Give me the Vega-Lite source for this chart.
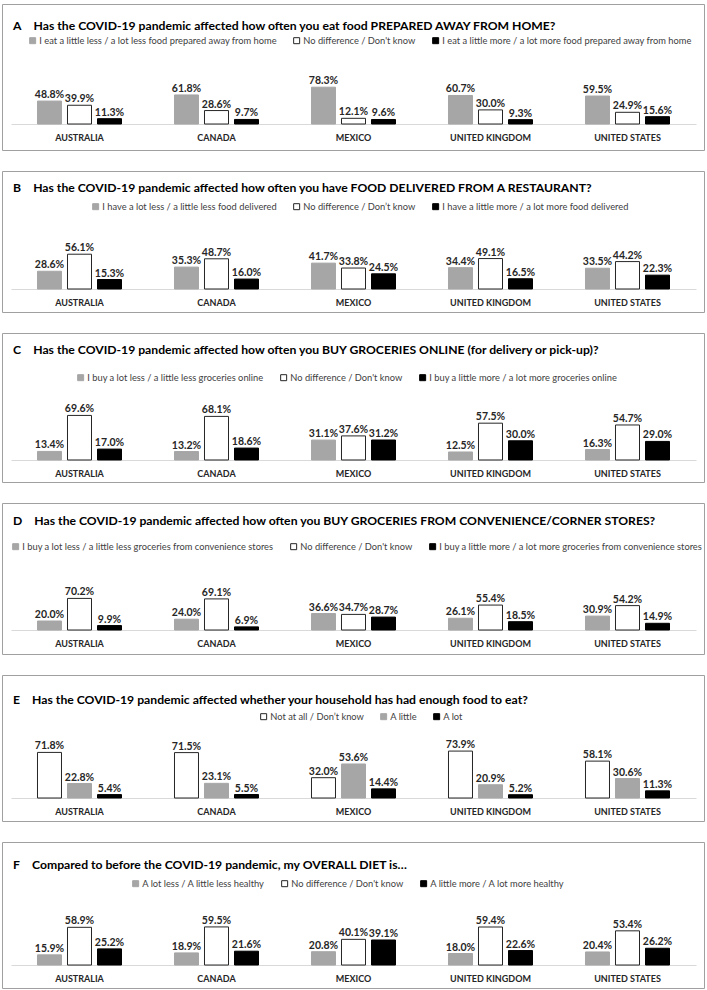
{
  "$schema": "https://vega.github.io/schema/vega-lite/v6.json",
  "padding": {"left": 1, "top": 3, "right": 2, "bottom": 1},
  "background": "white",
  "spacing": 21,
  "bounds": "flush",
  "resolve": {"scale": {"x": "independent", "y": "independent", "xOffset": "independent", "fill": "independent", "stroke": "independent"}, "legend": {"fill": "independent", "stroke": "independent"}},
  "config": {
    "font": "Lato",
    "view": {"stroke": "#a0a0a0", "strokeWidth": 1},
    "title": {"font": "Lato", "fontSize": 12.2, "fontWeight": "bold", "anchor": "start", "color": "#000000", "dx": 11, "baseline": "alphabetic"},
    "legend": {"orient": "none", "direction": "horizontal", "title": null, "symbolType": "square", "symbolSize": 36, "symbolStrokeWidth": 1, "labelFont": "Lato", "labelFontSize": 9.3, "labelColor": "#404040", "labelLimit": 0, "columnPadding": 14, "symbolOffset": 0, "labelOffset": 2},
    "axisX": {"title": null, "ticks": false, "domainColor": "#d9d9d9", "labelAngle": 0, "labelFont": "Lato", "labelFontSize": 9, "labelFontWeight": "bold", "labelColor": "#262626", "labelPadding": 9},
    "text": {"font": "Lato", "fontSize": 10.5, "fontWeight": "bold", "color": "#262626"}
  },
  "data": {"values": [
    {"p":"A","country":"AUSTRALIA","resp":"I eat a little less / a lot less food prepared away from home","value":0.488},
    {"p":"A","country":"AUSTRALIA","resp":"No difference / Don't know","value":0.399},
    {"p":"A","country":"AUSTRALIA","resp":"I eat a little more / a lot more food prepared away from home","value":0.113},
    {"p":"A","country":"CANADA","resp":"I eat a little less / a lot less food prepared away from home","value":0.618},
    {"p":"A","country":"CANADA","resp":"No difference / Don't know","value":0.286},
    {"p":"A","country":"CANADA","resp":"I eat a little more / a lot more food prepared away from home","value":0.097},
    {"p":"A","country":"MEXICO","resp":"I eat a little less / a lot less food prepared away from home","value":0.783},
    {"p":"A","country":"MEXICO","resp":"No difference / Don't know","value":0.121},
    {"p":"A","country":"MEXICO","resp":"I eat a little more / a lot more food prepared away from home","value":0.096},
    {"p":"A","country":"UNITED KINGDOM","resp":"I eat a little less / a lot less food prepared away from home","value":0.607},
    {"p":"A","country":"UNITED KINGDOM","resp":"No difference / Don't know","value":0.300},
    {"p":"A","country":"UNITED KINGDOM","resp":"I eat a little more / a lot more food prepared away from home","value":0.093},
    {"p":"A","country":"UNITED STATES","resp":"I eat a little less / a lot less food prepared away from home","value":0.595},
    {"p":"A","country":"UNITED STATES","resp":"No difference / Don't know","value":0.249},
    {"p":"A","country":"UNITED STATES","resp":"I eat a little more / a lot more food prepared away from home","value":0.156},

    {"p":"B","country":"AUSTRALIA","resp":"I have a lot less / a little less food delivered","value":0.286},
    {"p":"B","country":"AUSTRALIA","resp":"No difference / Don’t know","value":0.561},
    {"p":"B","country":"AUSTRALIA","resp":"I have a little more / a lot more food delivered","value":0.153},
    {"p":"B","country":"CANADA","resp":"I have a lot less / a little less food delivered","value":0.353},
    {"p":"B","country":"CANADA","resp":"No difference / Don’t know","value":0.487},
    {"p":"B","country":"CANADA","resp":"I have a little more / a lot more food delivered","value":0.160},
    {"p":"B","country":"MEXICO","resp":"I have a lot less / a little less food delivered","value":0.417},
    {"p":"B","country":"MEXICO","resp":"No difference / Don’t know","value":0.338},
    {"p":"B","country":"MEXICO","resp":"I have a little more / a lot more food delivered","value":0.245},
    {"p":"B","country":"UNITED KINGDOM","resp":"I have a lot less / a little less food delivered","value":0.344},
    {"p":"B","country":"UNITED KINGDOM","resp":"No difference / Don’t know","value":0.491},
    {"p":"B","country":"UNITED KINGDOM","resp":"I have a little more / a lot more food delivered","value":0.165},
    {"p":"B","country":"UNITED STATES","resp":"I have a lot less / a little less food delivered","value":0.335},
    {"p":"B","country":"UNITED STATES","resp":"No difference / Don’t know","value":0.442},
    {"p":"B","country":"UNITED STATES","resp":"I have a little more / a lot more food delivered","value":0.223},

    {"p":"C","country":"AUSTRALIA","resp":"I buy a lot less / a little less groceries online","value":0.134},
    {"p":"C","country":"AUSTRALIA","resp":"No difference / Don't know","value":0.696},
    {"p":"C","country":"AUSTRALIA","resp":"I buy a little more / a lot more groceries online","value":0.170},
    {"p":"C","country":"CANADA","resp":"I buy a lot less / a little less groceries online","value":0.132},
    {"p":"C","country":"CANADA","resp":"No difference / Don't know","value":0.681},
    {"p":"C","country":"CANADA","resp":"I buy a little more / a lot more groceries online","value":0.186},
    {"p":"C","country":"MEXICO","resp":"I buy a lot less / a little less groceries online","value":0.311},
    {"p":"C","country":"MEXICO","resp":"No difference / Don't know","value":0.376},
    {"p":"C","country":"MEXICO","resp":"I buy a little more / a lot more groceries online","value":0.312},
    {"p":"C","country":"UNITED KINGDOM","resp":"I buy a lot less / a little less groceries online","value":0.125},
    {"p":"C","country":"UNITED KINGDOM","resp":"No difference / Don't know","value":0.575},
    {"p":"C","country":"UNITED KINGDOM","resp":"I buy a little more / a lot more groceries online","value":0.300},
    {"p":"C","country":"UNITED STATES","resp":"I buy a lot less / a little less groceries online","value":0.163},
    {"p":"C","country":"UNITED STATES","resp":"No difference / Don't know","value":0.547},
    {"p":"C","country":"UNITED STATES","resp":"I buy a little more / a lot more groceries online","value":0.290},

    {"p":"D","country":"AUSTRALIA","resp":"I buy a lot less / a little less groceries from convenience stores","value":0.200},
    {"p":"D","country":"AUSTRALIA","resp":"No difference / Don't know","value":0.702},
    {"p":"D","country":"AUSTRALIA","resp":"I buy a little more / a lot more groceries from convenience stores","value":0.099},
    {"p":"D","country":"CANADA","resp":"I buy a lot less / a little less groceries from convenience stores","value":0.240},
    {"p":"D","country":"CANADA","resp":"No difference / Don't know","value":0.691},
    {"p":"D","country":"CANADA","resp":"I buy a little more / a lot more groceries from convenience stores","value":0.069},
    {"p":"D","country":"MEXICO","resp":"I buy a lot less / a little less groceries from convenience stores","value":0.366},
    {"p":"D","country":"MEXICO","resp":"No difference / Don't know","value":0.347},
    {"p":"D","country":"MEXICO","resp":"I buy a little more / a lot more groceries from convenience stores","value":0.287},
    {"p":"D","country":"UNITED KINGDOM","resp":"I buy a lot less / a little less groceries from convenience stores","value":0.261},
    {"p":"D","country":"UNITED KINGDOM","resp":"No difference / Don't know","value":0.554},
    {"p":"D","country":"UNITED KINGDOM","resp":"I buy a little more / a lot more groceries from convenience stores","value":0.185},
    {"p":"D","country":"UNITED STATES","resp":"I buy a lot less / a little less groceries from convenience stores","value":0.309},
    {"p":"D","country":"UNITED STATES","resp":"No difference / Don't know","value":0.542},
    {"p":"D","country":"UNITED STATES","resp":"I buy a little more / a lot more groceries from convenience stores","value":0.149},

    {"p":"E","country":"AUSTRALIA","resp":"Not at all / Don’t know","value":0.718},
    {"p":"E","country":"AUSTRALIA","resp":"A little","value":0.228},
    {"p":"E","country":"AUSTRALIA","resp":"A lot","value":0.054},
    {"p":"E","country":"CANADA","resp":"Not at all / Don’t know","value":0.715},
    {"p":"E","country":"CANADA","resp":"A little","value":0.231},
    {"p":"E","country":"CANADA","resp":"A lot","value":0.055},
    {"p":"E","country":"MEXICO","resp":"Not at all / Don’t know","value":0.320},
    {"p":"E","country":"MEXICO","resp":"A little","value":0.536},
    {"p":"E","country":"MEXICO","resp":"A lot","value":0.144},
    {"p":"E","country":"UNITED KINGDOM","resp":"Not at all / Don’t know","value":0.739},
    {"p":"E","country":"UNITED KINGDOM","resp":"A little","value":0.209},
    {"p":"E","country":"UNITED KINGDOM","resp":"A lot","value":0.052},
    {"p":"E","country":"UNITED STATES","resp":"Not at all / Don’t know","value":0.581},
    {"p":"E","country":"UNITED STATES","resp":"A little","value":0.306},
    {"p":"E","country":"UNITED STATES","resp":"A lot","value":0.113},

    {"p":"F","country":"AUSTRALIA","resp":"A lot less / A little less healthy","value":0.159},
    {"p":"F","country":"AUSTRALIA","resp":"No difference / Don't know","value":0.589},
    {"p":"F","country":"AUSTRALIA","resp":"A little more / A lot more healthy","value":0.252},
    {"p":"F","country":"CANADA","resp":"A lot less / A little less healthy","value":0.189},
    {"p":"F","country":"CANADA","resp":"No difference / Don't know","value":0.595},
    {"p":"F","country":"CANADA","resp":"A little more / A lot more healthy","value":0.216},
    {"p":"F","country":"MEXICO","resp":"A lot less / A little less healthy","value":0.208},
    {"p":"F","country":"MEXICO","resp":"No difference / Don't know","value":0.401},
    {"p":"F","country":"MEXICO","resp":"A little more / A lot more healthy","value":0.391},
    {"p":"F","country":"UNITED KINGDOM","resp":"A lot less / A little less healthy","value":0.180},
    {"p":"F","country":"UNITED KINGDOM","resp":"No difference / Don't know","value":0.594},
    {"p":"F","country":"UNITED KINGDOM","resp":"A little more / A lot more healthy","value":0.226},
    {"p":"F","country":"UNITED STATES","resp":"A lot less / A little less healthy","value":0.204},
    {"p":"F","country":"UNITED STATES","resp":"No difference / Don't know","value":0.534},
    {"p":"F","country":"UNITED STATES","resp":"A little more / A lot more healthy","value":0.262}
  ]},
  "vconcat": [
    {
      "width": 702, "height": 146,
      "title": {"text": "A\u2003 Has the COVID-19 pandemic affected how often you eat food PREPARED AWAY FROM HOME?", "offset": -28},
      "transform": [{"filter": "datum.p == 'A'"}],
      "encoding": {
        "x": {"field": "country", "type": "nominal", "scale": {"range": [9, 694], "paddingInner": 0, "paddingOuter": 0}, "axis": {"offset": -26}},
        "xOffset": {"field": "resp", "type": "nominal", "scale": {"domain": ["I eat a little less / a lot less food prepared away from home", "No difference / Don't know", "I eat a little more / a lot more food prepared away from home"], "paddingInner": 0.2, "paddingOuter": 0.883}},
        "y": {"field": "value", "type": "quantitative", "scale": {"domain": [-0.553, 2.553]}, "axis": null}
      },
      "layer": [
        {"mark": {"type": "bar", "strokeWidth": 1},
         "encoding": {
           "fill": {"field": "resp", "type": "nominal", "scale": {"domain": ["I eat a little less / a lot less food prepared away from home", "No difference / Don't know", "I eat a little more / a lot more food prepared away from home"], "range": ["#a6a6a6", "#ffffff", "#000000"]}, "legend": {"legendX": 26, "legendY": 32}},
           "stroke": {"field": "resp", "type": "nominal", "scale": {"domain": ["I eat a little less / a lot less food prepared away from home", "No difference / Don't know", "I eat a little more / a lot more food prepared away from home"], "range": ["#a6a6a6", "#262626", "#000000"]}, "legend": {"legendX": 26, "legendY": 32}}
         }},
        {"mark": {"type": "text", "baseline": "alphabetic", "dy": -3},
         "encoding": {"text": {"field": "value", "type": "quantitative", "format": ".1%"}}}
      ]
    },
    {
      "width": 702, "height": 141,
      "title": {"text": "B\u2003 Has the COVID-19 pandemic affected how often you have FOOD DELIVERED FROM A RESTAURANT?", "offset": -23},
      "transform": [{"filter": "datum.p == 'B'"}],
      "encoding": {
        "x": {"field": "country", "type": "nominal", "scale": {"range": [9, 694], "paddingInner": 0, "paddingOuter": 0}, "axis": {"offset": -23}},
        "xOffset": {"field": "resp", "type": "nominal", "scale": {"domain": ["I have a lot less / a little less food delivered", "No difference / Don’t know", "I have a little more / a lot more food delivered"], "paddingInner": 0.2, "paddingOuter": 0.883}},
        "y": {"field": "value", "type": "quantitative", "scale": {"domain": [-0.371, 1.903]}, "axis": null}
      },
      "layer": [
        {"mark": {"type": "bar", "strokeWidth": 1},
         "encoding": {
           "fill": {"field": "resp", "type": "nominal", "scale": {"domain": ["I have a lot less / a little less food delivered", "No difference / Don’t know", "I have a little more / a lot more food delivered"], "range": ["#a6a6a6", "#ffffff", "#000000"]}, "legend": {"legendX": 89, "legendY": 31}},
           "stroke": {"field": "resp", "type": "nominal", "scale": {"domain": ["I have a lot less / a little less food delivered", "No difference / Don’t know", "I have a little more / a lot more food delivered"], "range": ["#a6a6a6", "#262626", "#000000"]}, "legend": {"legendX": 89, "legendY": 31}}
         }},
        {"mark": {"type": "text", "baseline": "alphabetic", "dy": -3},
         "encoding": {"text": {"field": "value", "type": "quantitative", "format": ".1%"}}}
      ]
    },
    {
      "width": 702, "height": 149,
      "title": {"text": "C\u2003 Has the COVID-19 pandemic affected how often you BUY GROCERIES ONLINE (for delivery or pick-up)?", "offset": -23},
      "transform": [{"filter": "datum.p == 'C'"}],
      "encoding": {
        "x": {"field": "country", "type": "nominal", "scale": {"range": [9, 694], "paddingInner": 0, "paddingOuter": 0}, "axis": {"offset": -22}},
        "xOffset": {"field": "resp", "type": "nominal", "scale": {"domain": ["I buy a lot less / a little less groceries online", "No difference / Don't know", "I buy a little more / a lot more groceries online"], "paddingInner": 0.2, "paddingOuter": 0.883}},
        "y": {"field": "value", "type": "quantitative", "scale": {"domain": [-0.344, 1.984]}, "axis": null}
      },
      "layer": [
        {"mark": {"type": "bar", "strokeWidth": 1},
         "encoding": {
           "fill": {"field": "resp", "type": "nominal", "scale": {"domain": ["I buy a lot less / a little less groceries online", "No difference / Don't know", "I buy a little more / a lot more groceries online"], "range": ["#a6a6a6", "#ffffff", "#000000"]}, "legend": {"legendX": 74, "legendY": 40}},
           "stroke": {"field": "resp", "type": "nominal", "scale": {"domain": ["I buy a lot less / a little less groceries online", "No difference / Don't know", "I buy a little more / a lot more groceries online"], "range": ["#a6a6a6", "#262626", "#000000"]}, "legend": {"legendX": 74, "legendY": 40}}
         }},
        {"mark": {"type": "text", "baseline": "alphabetic", "dy": -3},
         "encoding": {"text": {"field": "value", "type": "quantitative", "format": ".1%"}}}
      ]
    },
    {
      "width": 702, "height": 151,
      "title": {"text": "D\u2003 Has the COVID-19 pandemic affected how often you BUY GROCERIES FROM CONVENIENCE/CORNER STORES?", "offset": -24},
      "transform": [{"filter": "datum.p == 'D'"}],
      "encoding": {
        "x": {"field": "country", "type": "nominal", "scale": {"range": [9, 694], "paddingInner": 0, "paddingOuter": 0}, "axis": {"offset": -24}},
        "xOffset": {"field": "resp", "type": "nominal", "scale": {"domain": ["I buy a lot less / a little less groceries from convenience stores", "No difference / Don't know", "I buy a little more / a lot more groceries from convenience stores"], "paddingInner": 0.2, "paddingOuter": 0.883}},
        "y": {"field": "value", "type": "quantitative", "scale": {"domain": [-0.533, 2.822]}, "axis": null}
      },
      "layer": [
        {"mark": {"type": "bar", "strokeWidth": 1},
         "encoding": {
           "fill": {"field": "resp", "type": "nominal", "scale": {"domain": ["I buy a lot less / a little less groceries from convenience stores", "No difference / Don't know", "I buy a little more / a lot more groceries from convenience stores"], "range": ["#a6a6a6", "#ffffff", "#000000"]}, "legend": {"legendX": 9, "legendY": 39}},
           "stroke": {"field": "resp", "type": "nominal", "scale": {"domain": ["I buy a lot less / a little less groceries from convenience stores", "No difference / Don't know", "I buy a little more / a lot more groceries from convenience stores"], "range": ["#a6a6a6", "#262626", "#000000"]}, "legend": {"legendX": 9, "legendY": 39}}
         }},
        {"mark": {"type": "text", "baseline": "alphabetic", "dy": -3},
         "encoding": {"text": {"field": "value", "type": "quantitative", "format": ".1%"}}}
      ]
    },
    {
      "width": 702, "height": 146,
      "title": {"text": "E\u2003 Has the COVID-19 pandemic affected whether your household has had enough food to eat?", "offset": -31},
      "transform": [{"filter": "datum.p == 'E'"}],
      "encoding": {
        "x": {"field": "country", "type": "nominal", "scale": {"range": [9, 694], "paddingInner": 0, "paddingOuter": 0}, "axis": {"offset": -23}},
        "xOffset": {"field": "resp", "type": "nominal", "scale": {"domain": ["Not at all / Don’t know", "A little", "A lot"], "paddingInner": 0.2, "paddingOuter": 0.883}},
        "y": {"field": "value", "type": "quantitative", "scale": {"domain": [-0.362, 1.937]}, "axis": null}
      },
      "layer": [
        {"mark": {"type": "bar", "strokeWidth": 1},
         "encoding": {
           "fill": {"field": "resp", "type": "nominal", "scale": {"domain": ["Not at all / Don’t know", "A little", "A lot"], "range": ["#ffffff", "#a6a6a6", "#000000"]}, "legend": {"legendX": 257, "legendY": 37}},
           "stroke": {"field": "resp", "type": "nominal", "scale": {"domain": ["Not at all / Don’t know", "A little", "A lot"], "range": ["#262626", "#a6a6a6", "#000000"]}, "legend": {"legendX": 257, "legendY": 37}}
         }},
        {"mark": {"type": "text", "baseline": "alphabetic", "dy": -3},
         "encoding": {"text": {"field": "value", "type": "quantitative", "format": ".1%"}}}
      ]
    },
    {
      "width": 702, "height": 146,
      "title": {"text": "F\u2003 Compared to before the COVID-19 pandemic, my OVERALL DIET is…", "offset": -29},
      "transform": [{"filter": "datum.p == 'F'"}],
      "encoding": {
        "x": {"field": "country", "type": "nominal", "scale": {"range": [9, 694], "paddingInner": 0, "paddingOuter": 0}, "axis": {"offset": -23}},
        "xOffset": {"field": "resp", "type": "nominal", "scale": {"domain": ["A lot less / A little less healthy", "No difference / Don't know", "A little more / A lot more healthy"], "paddingInner": 0.2, "paddingOuter": 0.883}},
        "y": {"field": "value", "type": "quantitative", "scale": {"domain": [-0.359, 1.922]}, "axis": null}
      },
      "layer": [
        {"mark": {"type": "bar", "strokeWidth": 1},
         "encoding": {
           "fill": {"field": "resp", "type": "nominal", "scale": {"domain": ["A lot less / A little less healthy", "No difference / Don't know", "A little more / A lot more healthy"], "range": ["#a6a6a6", "#ffffff", "#000000"]}, "legend": {"legendX": 129, "legendY": 37}},
           "stroke": {"field": "resp", "type": "nominal", "scale": {"domain": ["A lot less / A little less healthy", "No difference / Don't know", "A little more / A lot more healthy"], "range": ["#a6a6a6", "#262626", "#000000"]}, "legend": {"legendX": 129, "legendY": 37}}
         }},
        {"mark": {"type": "text", "baseline": "alphabetic", "dy": -3},
         "encoding": {"text": {"field": "value", "type": "quantitative", "format": ".1%"}}}
      ]
    }
  ]
}
